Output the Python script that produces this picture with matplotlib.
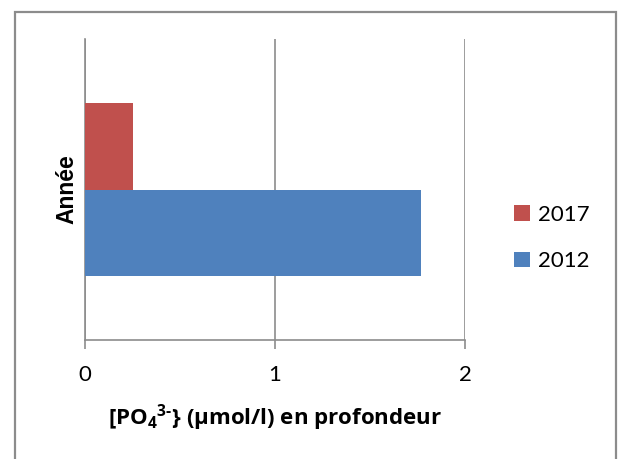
import matplotlib
matplotlib.use("Agg")
import matplotlib.pyplot as plt
from matplotlib.patches import Rectangle, Patch

plt.rcParams['font.family'] = ['Lato', 'DejaVu Sans']
plt.rcParams['mathtext.fontset'] = 'custom'
plt.rcParams['mathtext.rm'] = 'Open Sans:bold'
plt.rcParams['mathtext.bf'] = 'Open Sans:bold'
plt.rcParams['mathtext.default'] = 'rm'

# Phosphate concentration at depth, per year
years = ['2017', '2012']
values = [0.25, 1.77]
colors = ['#C0504D', '#4F81BD']
x_ticks = [0, 1, 2]
x_label = r'[PO$_{4}$$^{3\text{-}}$} (µmol/l) en profondeur'
y_label = 'Année'

W, H = 618, 459
fig = plt.figure(figsize=(W / 100, H / 100), dpi=100)

# outer chart frame
fig.patches.append(Rectangle((15 / W, -0.05), 601 / W, 1.05 - 12 / H,
                             transform=fig.transFigure, fill=False,
                             edgecolor='#8C8C8C', linewidth=1.6))

ax = fig.add_axes([85 / W, (H - 340) / H, 380 / W, 301 / H])

bar_h = 0.2875
offsets = [bar_h / 2, -bar_h / 2]
for yr, v, c, off in zip(years, values, colors, offsets):
    ax.barh(off, v, height=bar_h, color=c, label=yr, zorder=3)

ax.set_xlim(0, 2)
ax.set_ylim(-0.5, 0.5)
ax.set_xticks(x_ticks)
ax.set_xticklabels([str(t) for t in x_ticks])
ax.set_yticks([])
ax.xaxis.grid(True, color='#8C8C8C', linewidth=1.2, zorder=0)
for s in ['top', 'right']:
    ax.spines[s].set_visible(False)
for s in ['left', 'bottom']:
    ax.spines[s].set_color('#8C8C8C')
    ax.spines[s].set_linewidth(1.2)
ax.tick_params(axis='x', direction='out', length=6.5, width=1.2,
               color='#8C8C8C', labelsize=16, pad=11.5)

ax.set_xlabel(x_label, fontsize=16, fontweight='bold', labelpad=12.5,
              family=['Open Sans', 'DejaVu Sans'])
ax.set_ylabel(y_label, fontsize=16.5, fontweight='bold', labelpad=5,
              family=['Liberation Sans', 'DejaVu Sans'])

handles = [Patch(facecolor=c, edgecolor='none') for c in colors]
fig.legend(handles, years, loc='center left',
           bbox_to_anchor=(494 / W, 1 - 238 / H), frameon=False,
           fontsize=16, handlelength=0.7, handleheight=0.7,
           handletextpad=0.4, labelspacing=1.2)

fig.savefig('out.png', dpi=100)
